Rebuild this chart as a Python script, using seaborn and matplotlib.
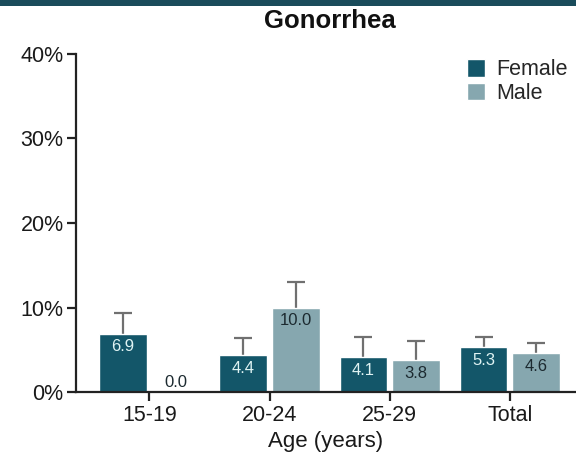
import matplotlib
matplotlib.use("Agg")
import matplotlib.pyplot as plt
from matplotlib.patches import Rectangle
from matplotlib.ticker import FuncFormatter
import pandas as pd
import seaborn as sns

# Prevalence by age group and sex (%)
age_groups = ["15-19", "20-24", "25-29", "Total"]
sexes = ["Female", "Male"]
female_pct = [6.9, 4.4, 4.1, 5.3]
male_pct = [0.0, 10.0, 3.8, 4.6]
# upper bound of the confidence interval (%)
female_upper = [9.3, 6.4, 6.5, 6.5]
male_upper = [0.0, 13.0, 6.0, 5.8]
y_ticks = [0, 10, 20, 30, 40]

FEMALE_COLOR = "#135669"
MALE_COLOR = "#86a7af"
ERR_COLOR = "#707070"
AXIS_COLOR = "#222222"

sns.set_theme(style="ticks")
plt.rcParams["font.family"] = ["Liberation Sans", "DejaVu Sans"]

df = pd.DataFrame({
    "Age": age_groups * 2,
    "Sex": [sexes[0]] * len(age_groups) + [sexes[1]] * len(age_groups),
    "Pct": female_pct + male_pct,
})

W, H = 576, 461
fig = plt.figure(figsize=(W / 100, H / 100), dpi=100)
fig.patch.set_facecolor("white")

# dark header band
fig.patches.append(Rectangle((0, 1 - 6 / H), 1, 6 / H, transform=fig.transFigure,
                             facecolor="#1a4c5b", edgecolor="none", zorder=0))

ax = fig.add_axes([76 / W, 1 - 392 / H, 1 - 76 / W, (392 - 54) / H])

sns.barplot(data=df, x="Age", y="Pct", hue="Sex", order=age_groups, hue_order=sexes,
            palette=[FEMALE_COLOR, MALE_COLOR], saturation=1, width=0.875, gap=0.095,
            errorbar=None, ax=ax, zorder=2)

label_colors = ["#dff3f3", "#1c2a30"]
uppers = [female_upper, male_upper]
values = [female_pct, male_pct]
for container, vals, ups, lc in zip(ax.containers, values, uppers, label_colors):
    for bar, v, up in zip(container, vals, ups):
        x = bar.get_x() + bar.get_width() / 2
        if up > v:
            eb = ax.errorbar(x, v, yerr=[[0], [up - v]], fmt="none", ecolor=ERR_COLOR,
                             elinewidth=1.6, capsize=6.5, capthick=1.6, zorder=1)
            # only the upper whisker carries a cap
            for cap in eb[1]:
                if abs(cap.get_ydata()[0] - v) < 1e-9:
                    cap.set_visible(False)
        if v > 1.5:
            ax.annotate(f"{v:.1f}", xy=(x, v), xytext=(0, -9.5), textcoords="offset points",
                        ha="center", va="center", fontsize=12, color=lc, zorder=4)
        else:
            ax.annotate(f"{v:.1f}", xy=(x, v), xytext=(0, 6.5), textcoords="offset points",
                        ha="center", va="center", fontsize=12, color="#1c2a30", zorder=4)

ax.set_ylim(0, 40)
ax.set_xlim(-0.61, 3.55)
ax.set_yticks(y_ticks)
ax.yaxis.set_major_formatter(FuncFormatter(lambda v, _: f"{v:.0f}%"))
ax.set_ylabel("")
ax.set_xlabel("Age (years)", fontsize=16, color="#1a1a1a", labelpad=4)
ax.tick_params(axis="both", labelsize=15.5, colors=AXIS_COLOR, length=6.5, width=1.6,
               pad=2.5, labelcolor="#1a1a1a")
sns.despine(ax=ax)
for side in ["left", "bottom"]:
    ax.spines[side].set_color(AXIS_COLOR)
    ax.spines[side].set_linewidth(1.6)

handles, labels = ax.get_legend_handles_labels()
ax.legend(handles, labels, loc="upper left", bbox_to_anchor=(467 / W, 1 - 59 / H),
          bbox_transform=fig.transFigure, frameon=False, fontsize=15.5,
          handlelength=0.83, handleheight=0.88, handletextpad=0.55, labelspacing=0.12,
          borderpad=0, borderaxespad=0)

fig.text(330 / W, 1 - 28.5 / H, "Gonorrhea", ha="center", va="baseline",
         fontsize=18.5, fontweight="bold", color="#111111")

fig.savefig("out.png", dpi=100)
